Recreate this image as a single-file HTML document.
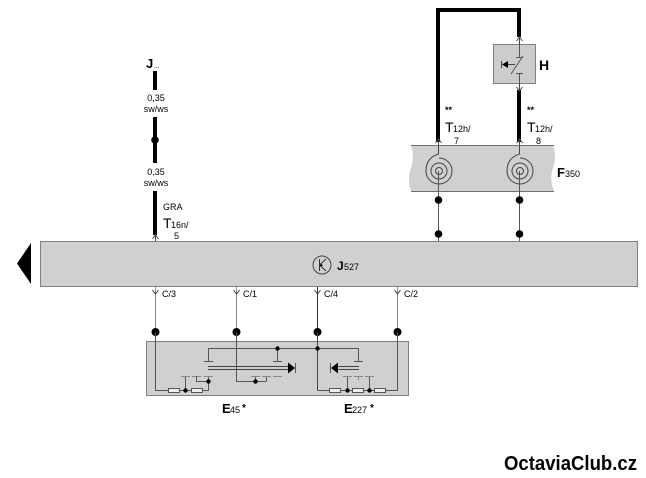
<!DOCTYPE html>
<html><head><meta charset="utf-8"><style>
html,body{margin:0;padding:0;background:#fff;}
svg{display:block;}
text{font-family:"Liberation Sans",Arial,sans-serif;fill:#000;}
</style></head><body>
<svg width="646" height="478" viewBox="0 0 646 478" xmlns="http://www.w3.org/2000/svg">
<rect width="646" height="478" fill="#fff"/>

<!-- ===== Top-left wire (J... to J527) ===== -->
<text x="146" y="68" font-size="13" font-weight="bold">J</text>
<text x="154" y="68" font-size="6">...</text>
<line x1="155" y1="71" x2="155" y2="90" stroke="#000" stroke-width="4"/>
<text x="156" y="101" font-size="9" text-anchor="middle">0,35</text>
<text x="156" y="112" font-size="9" text-anchor="middle">sw/ws</text>
<line x1="155" y1="117" x2="155" y2="163" stroke="#000" stroke-width="4"/>
<circle cx="155" cy="140" r="3.8" fill="#000"/>
<text x="156" y="175" font-size="9" text-anchor="middle">0,35</text>
<text x="156" y="186" font-size="9" text-anchor="middle">sw/ws</text>
<line x1="155" y1="191" x2="155" y2="235" stroke="#000" stroke-width="4"/>
<line x1="155.5" y1="234" x2="155.5" y2="242" stroke="#444" stroke-width="1"/>
<polyline points="152.5,239 155.5,235 158.5,239" fill="none" stroke="#444" stroke-width="1"/>
<text x="163" y="210" font-size="9">GRA</text>
<text x="163" y="228" font-size="14">T</text>
<text x="171" y="228" font-size="9">16n/</text>
<text x="174" y="239" font-size="9">5</text>

<!-- ===== Top-right wiring ===== -->
<polyline points="438,142 438,10 519,10 519,37" fill="none" stroke="#000" stroke-width="4"/>
<line x1="519" y1="90" x2="519" y2="142" stroke="#000" stroke-width="4"/>
<line x1="519.5" y1="36" x2="519.5" y2="44" stroke="#444"/>
<polyline points="516.5,41 519.5,37 522.5,41" fill="none" stroke="#444"/>
<line x1="519.5" y1="84" x2="519.5" y2="91" stroke="#444"/>
<polyline points="516.5,87 519.5,91 522.5,87" fill="none" stroke="#444"/>
<line x1="438.5" y1="140" x2="438.5" y2="146" stroke="#444"/>
<polyline points="435.5,143 438.5,139 441.5,143" fill="none" stroke="#444"/>
<line x1="519.5" y1="140" x2="519.5" y2="146" stroke="#444"/>
<polyline points="516.5,143 519.5,139 522.5,143" fill="none" stroke="#444"/>

<!-- H box -->
<rect x="493.5" y="44.5" width="42" height="39" fill="#cccccc" stroke="#808080"/>
<line x1="519.5" y1="44" x2="519.5" y2="57" stroke="#555"/>
<line x1="516" y1="57.5" x2="523" y2="57.5" stroke="#555"/>
<line x1="511" y1="74" x2="523" y2="56" stroke="#555"/>
<line x1="516" y1="73.5" x2="523" y2="73.5" stroke="#555"/>
<line x1="519.5" y1="73" x2="519.5" y2="84" stroke="#555"/>
<line x1="505" y1="64.5" x2="515" y2="64.5" stroke="#444"/>
<polygon points="502,64.5 508,61 508,68" fill="#000"/>
<line x1="501.5" y1="61" x2="501.5" y2="68" stroke="#444"/>
<text x="539" y="70" font-size="14" font-weight="bold">H</text>

<text x="445" y="113" font-size="9" font-weight="bold">**</text>
<text x="445" y="132" font-size="14">T</text>
<text x="453" y="132" font-size="9">12h/</text>
<text x="454" y="144" font-size="9">7</text>
<text x="527" y="113" font-size="9" font-weight="bold">**</text>
<text x="527" y="132" font-size="14">T</text>
<text x="535" y="132" font-size="9">12h/</text>
<text x="536" y="144" font-size="9">8</text>

<!-- F350 box -->
<path d="M411,145 L553,145 Q557,158 553,168 Q549,179 554,191 L411,191 Q407,179 411,168 Q415,157 411,145 Z" fill="#d0d0d0"/>
<line x1="411" y1="145.5" x2="554" y2="145.5" stroke="#707070"/>
<line x1="411" y1="191.5" x2="554" y2="191.5" stroke="#707070"/>
<g fill="none" stroke="#444" stroke-width="1">
  <path d="M438.5,146 L438.5,154 Q426,158 426,171 A13,13 0 1 0 439,158"/>
  <circle cx="439" cy="171" r="8"/>
  <circle cx="439" cy="171" r="3.5"/>
  <path d="M519.5,146 L519.5,154 Q507,158 507,171 A13,13 0 1 0 520,158"/>
  <circle cx="520" cy="171" r="8"/>
  <circle cx="520" cy="171" r="3.5"/>
</g>
<text x="557" y="177" font-size="13" font-weight="bold">F</text>
<text x="565" y="177" font-size="9">350</text>
<line x1="438.5" y1="171" x2="438.5" y2="242" stroke="#555"/>
<line x1="519.5" y1="171" x2="519.5" y2="242" stroke="#555"/>
<circle cx="438.5" cy="200" r="3.8" fill="#000"/>
<circle cx="438.5" cy="234" r="3.8" fill="#000"/>
<circle cx="519.5" cy="200" r="3.8" fill="#000"/>
<circle cx="519.5" cy="234" r="3.8" fill="#000"/>

<!-- ===== J527 box ===== -->
<rect x="40.5" y="241.5" width="597" height="45" fill="#d0d0d0" stroke="#808080"/>
<polygon points="17,263.5 31,243 31,284" fill="#000"/>
<circle cx="322" cy="265" r="9" fill="none" stroke="#444"/>
<line x1="319.5" y1="259" x2="319.5" y2="271" stroke="#333"/>
<line x1="319.5" y1="265" x2="326" y2="259" stroke="#333"/>
<line x1="319.5" y1="265" x2="326" y2="271" stroke="#333"/>
<polygon points="320,266 323,266 321,263.5" fill="#000"/>
<text x="337" y="270" font-size="12" font-weight="bold">J</text>
<text x="344" y="270" font-size="9">527</text>

<g stroke="#444" fill="none">
  <line x1="155.5" y1="287" x2="155.5" y2="331" stroke="#888"/>
  <polyline points="152.5,290 155.5,294 158.5,290"/>
  <line x1="236.5" y1="287" x2="236.5" y2="331" stroke="#888"/>
  <polyline points="233.5,290 236.5,294 239.5,290"/>
  <line x1="317.5" y1="287" x2="317.5" y2="331" stroke="#333"/>
  <polyline points="314.5,290 317.5,294 320.5,290"/>
  <line x1="397.5" y1="287" x2="397.5" y2="331" stroke="#888"/>
  <polyline points="394.5,290 397.5,294 400.5,290"/>
</g>
<text x="162" y="297" font-size="9">C/3</text>
<text x="243" y="297" font-size="9">C/1</text>
<text x="324" y="297" font-size="9">C/4</text>
<text x="404" y="297" font-size="9">C/2</text>
<circle cx="155.5" cy="332" r="4" fill="#000"/>
<circle cx="236.5" cy="332" r="4" fill="#000"/>
<circle cx="317.5" cy="332" r="4" fill="#000"/>
<circle cx="397.5" cy="332" r="4" fill="#000"/>

<!-- ===== E box ===== -->
<rect x="146.5" y="341.5" width="262" height="54" fill="#d0d0d0" stroke="#808080"/>
<g stroke="#555" fill="none" stroke-width="1">
  <polyline points="155.5,332 155.5,390.5 168,390.5"/>
  <line x1="179" y1="390.5" x2="191" y2="390.5"/>
  <polyline points="203,390.5 208.5,390.5 208.5,376"/>
  <line x1="185.5" y1="390" x2="185.5" y2="376"/>
  <line x1="181" y1="376.5" x2="190" y2="376.5" stroke="#888"/>
  <line x1="192" y1="376.5" x2="201" y2="376.5" stroke="#888"/>
  <polyline points="196.5,376 196.5,381.5 208.5,381.5"/>
  <line x1="204" y1="376.5" x2="213" y2="376.5" stroke="#888"/>
  <line x1="208.5" y1="348" x2="208.5" y2="361"/>
  <line x1="204" y1="361.5" x2="213" y2="361.5"/>
  <line x1="208.5" y1="348.5" x2="358.5" y2="348.5"/>
  <polyline points="236.5,332 236.5,381.5 266.5,381.5"/>
  <line x1="255.5" y1="381" x2="255.5" y2="376"/>
  <line x1="266.5" y1="381" x2="266.5" y2="376"/>
  <line x1="251" y1="376.5" x2="260" y2="376.5" stroke="#888"/>
  <line x1="262" y1="376.5" x2="271" y2="376.5" stroke="#888"/>
  <line x1="277.5" y1="348" x2="277.5" y2="361"/>
  <line x1="273" y1="361.5" x2="282" y2="361.5"/>
  <line x1="273" y1="376.5" x2="282" y2="376.5" stroke="#888"/>
  <line x1="208" y1="366.5" x2="289" y2="366.5" stroke="#444"/>
  <line x1="208" y1="369.5" x2="289" y2="369.5" stroke="#444"/>
  <line x1="295.5" y1="363" x2="295.5" y2="373"/>
  <line x1="317.5" y1="332" x2="317.5" y2="390.5" stroke="#444"/>
  <line x1="317.5" y1="390.5" x2="329" y2="390.5"/>
  <line x1="341" y1="390.5" x2="352" y2="390.5"/>
  <line x1="364" y1="390.5" x2="374" y2="390.5"/>
  <polyline points="386,390.5 397.5,390.5 397.5,332"/>
  <line x1="347.5" y1="390" x2="347.5" y2="376"/>
  <line x1="369.5" y1="390" x2="369.5" y2="376"/>
  <line x1="343" y1="376.5" x2="352" y2="376.5" stroke="#888"/>
  <line x1="365" y1="376.5" x2="374" y2="376.5" stroke="#888"/>
  <line x1="358.5" y1="348" x2="358.5" y2="361"/>
  <line x1="354" y1="361.5" x2="363" y2="361.5"/>
  <line x1="358.5" y1="376" x2="358.5" y2="380" stroke="#888"/>
  <line x1="354" y1="376.5" x2="363" y2="376.5" stroke="#888"/>
  <line x1="336" y1="366.5" x2="359" y2="366.5" stroke="#444"/>
  <line x1="336" y1="369.5" x2="359" y2="369.5" stroke="#444"/>
  <line x1="330.5" y1="363" x2="330.5" y2="373"/>
</g>
<polygon points="288,362.5 295,368 288,373.5" fill="#000"/>
<polygon points="338,362.5 331,368 338,373.5" fill="#000"/>
<g fill="#eeeeee" stroke="#555">
  <rect x="168.5" y="388.5" width="11" height="4"/>
  <rect x="191.5" y="388.5" width="11" height="4"/>
  <rect x="329.5" y="388.5" width="11" height="4"/>
  <rect x="352.5" y="388.5" width="11" height="4"/>
  <rect x="374.5" y="388.5" width="11" height="4"/>
</g>
<g fill="#000">
  <circle cx="185.5" cy="390.5" r="2.2"/>
  <circle cx="208.5" cy="381.5" r="2.2"/>
  <circle cx="255.5" cy="381.5" r="2.2"/>
  <circle cx="277.5" cy="348.5" r="2.2"/>
  <circle cx="317.5" cy="348.5" r="2.2"/>
  <circle cx="347.5" cy="390.5" r="2.2"/>
  <circle cx="369.5" cy="390.5" r="2.2"/>
</g>
<text x="222" y="413" font-size="13" font-weight="bold">E</text>
<text x="230" y="413" font-size="9">45</text>
<text x="242" y="411" font-size="10" font-weight="bold">*</text>
<text x="344" y="413" font-size="13" font-weight="bold">E</text>
<text x="352" y="413" font-size="9">227</text>
<text x="370" y="411" font-size="10" font-weight="bold">*</text>

<text x="504" y="470" font-size="20.5" font-weight="bold" textLength="133" lengthAdjust="spacingAndGlyphs">OctaviaClub.cz</text>
</svg>
</body></html>
